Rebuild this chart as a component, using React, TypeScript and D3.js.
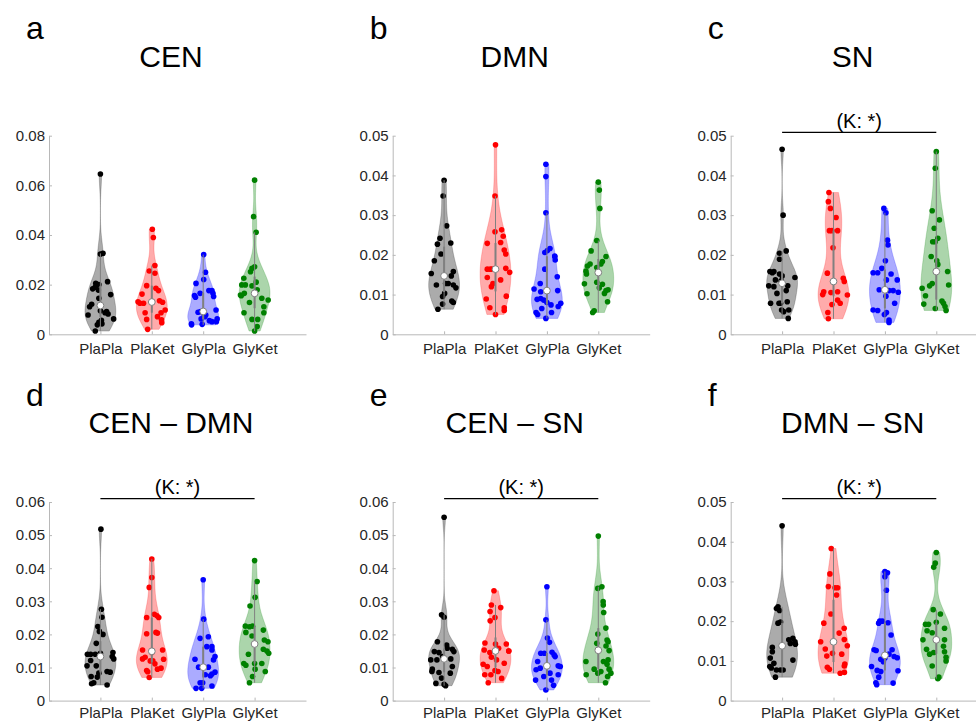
import React, { useRef, useEffect } from 'react';
import * as d3 from 'd3';

const categories = ['PlaPla', 'PlaKet', 'GlyPla', 'GlyKet'];
const groupColors = ['#000000', '#ff0000', '#0000ff', '#008000'];

const ticks08 = [0, 0.02, 0.04, 0.06, 0.08];
const ticks05 = [0, 0.01, 0.02, 0.03, 0.04, 0.05];
const ticks06 = [0, 0.01, 0.02, 0.03, 0.04, 0.05, 0.06];

// every point: [value, horizontal jitter in category units], one list per group
const cenData = [
  [[0.0646, 0], [0.0326, 0.07], [0.0323, 0], [0.0212, 0.14], [0.0205, -0.09], [0.02, -0.03], [0.019, -0.1], [0.0183, -0.15], [0.0178, -0.04], [0.016, 0.2], [0.0145, -0.03], [0.0121, -0.17], [0.0111, -0.21], [0.0095, 0], [0.0092, 0.12], [0.0087, 0.09], [0.0082, 0.15], [0.0078, -0.24], [0.0062, 0.3], [0.0056, 0.02], [0.0048, -0.03], [0.0042, 0.03], [0.0038, -0.06], [0.0013, -0.1]],
  [[0.0423, 0.01], [0.039, 0.03], [0.0277, 0.06], [0.0255, -0.05], [0.0246, 0.06], [0.0196, -0.1], [0.0185, 0.08], [0.0176, 0.13], [0.0162, -0.19], [0.0135, 0.15], [0.0131, -0.29], [0.0129, 0.21], [0.0125, -0.23], [0.0125, -0.16], [0.0098, 0.26], [0.0087, -0.13], [0.0087, 0.18], [0.0071, 0.11], [0.006, -0.1], [0.0058, 0.19], [0.0047, 0.21], [0.002, -0.08]],
  [[0.0321, 0.01], [0.025, 0.045], [0.0221, 0.01], [0.0205, -0.14], [0.0176, 0.11], [0.0176, 0.17], [0.0165, 0.19], [0.0165, -0.06], [0.0156, -0.17], [0.0152, 0.21], [0.0149, -0.15], [0.0098, 0.25], [0.0092, -0.05], [0.0089, -0.1], [0.0085, 0], [0.0078, 0.05], [0.0071, 0.03], [0.0062, -0.04], [0.0062, 0.28], [0.0055, 0.12], [0.0051, 0.17], [0.0051, 0.3], [0.0042, -0.23], [0.004, -0.02], [0.0038, -0.25]],
  [[0.0621, 0], [0.0474, -0.02], [0.0411, 0.03], [0.0272, 0], [0.0266, -0.05], [0.0252, -0.08], [0.0226, -0.21], [0.021, 0.03], [0.0199, -0.25], [0.0199, -0.18], [0.0195, -0.05], [0.0179, 0.05], [0.0165, -0.2], [0.0158, -0.31], [0.0155, -0.26], [0.0145, 0.14], [0.0138, 0.29], [0.0128, -0.1], [0.0111, 0.18], [0.0087, -0.21], [0.0087, 0.18], [0.006, -0.05], [0.006, 0.06], [0.0031, 0.05], [0.0013, 0]],
];

const dmnData = [
  [[0.0388, 0], [0.0348, -0.02], [0.0273, 0.05], [0.0242, -0.08], [0.0227, -0.13], [0.023, 0.13], [0.0202, -0.06], [0.0185, -0.19], [0.0158, 0.18], [0.0153, -0.25], [0.0148, 0.01], [0.0147, 0.14], [0.0128, 0.03], [0.0128, 0.08], [0.0124, -0.15], [0.0124, 0.18], [0.0117, 0.23], [0.0103, 0.01], [0.0095, -0.03], [0.0084, 0.15], [0.008, 0.18], [0.0076, -0.03], [0.0063, -0.12]],
  [[0.0477, 0], [0.0348, -0.01], [0.0263, 0.12], [0.0258, -0.01], [0.0247, 0.15], [0.0231, 0.1], [0.0229, -0.16], [0.0212, 0.17], [0.0202, 0.2], [0.0166, 0.2], [0.0164, -0.16], [0.0164, -0.1], [0.0164, -0.06], [0.0156, 0.3], [0.0143, -0.16], [0.0137, 0.1], [0.0128, -0.05], [0.012, -0.08], [0.0096, 0.21], [0.0089, -0.18], [0.0067, -0.11], [0.0067, 0.17], [0.006, 0.17], [0.005, 0]],
  [[0.0428, -0.02], [0.0397, -0.02], [0.0306, -0.02], [0.0216, 0.06], [0.0211, 0.01], [0.0206, -0.04], [0.0197, 0.16], [0.0195, 0.21], [0.0187, 0.18], [0.0164, -0.04], [0.0145, 0.22], [0.0128, -0.13], [0.0114, -0.25], [0.011, 0.21], [0.0107, -0.12], [0.009, -0.12], [0.0088, -0.19], [0.0086, -0.06], [0.008, 0], [0.0078, 0.27], [0.0074, 0.08], [0.007, 0.22], [0.0065, -0.1], [0.0055, 0.09], [0.0055, -0.21], [0.005, -0.18], [0.004, -0.02]],
  [[0.0383, 0], [0.0363, 0.02], [0.0317, 0.03], [0.0236, -0.03], [0.021, -0.14], [0.0196, 0.15], [0.0183, 0.08], [0.0177, 0.05], [0.0177, -0.16], [0.0172, -0.21], [0.0168, -0.03], [0.0159, -0.24], [0.0152, -0.23], [0.0131, -0.03], [0.0127, -0.27], [0.0126, 0.08], [0.0117, 0.02], [0.0112, 0.19], [0.011, 0.15], [0.0103, 0.12], [0.0102, -0.22], [0.0082, 0.18], [0.0059, -0.08], [0.0055, -0.11]],
];

const snData = [
  [[0.0466, 0], [0.03, 0.02], [0.021, 0.08], [0.0204, -0.05], [0.0189, -0.05], [0.0158, -0.24], [0.0158, -0.16], [0.0155, -0.19], [0.0152, -0.05], [0.0147, 0], [0.0143, 0.25], [0.0137, -0.13], [0.0135, -0.02], [0.0122, -0.26], [0.0122, 0.11], [0.012, -0.16], [0.011, 0.08], [0.0103, -0.1], [0.0082, 0.1], [0.0078, -0.24], [0.0078, -0.06], [0.0078, -0.03], [0.0061, -0.01], [0.0061, 0.13], [0.0057, 0.03], [0.004, 0.12]],
  [[0.0357, -0.1], [0.0334, -0.1], [0.0317, -0.06], [0.0294, 0.05], [0.0261, -0.08], [0.0261, -0.03], [0.0261, 0.08], [0.0218, -0.01], [0.0154, -0.12], [0.0141, 0.19], [0.0133, 0.21], [0.0107, -0.19], [0.0107, 0.08], [0.0105, -0.05], [0.01, -0.21], [0.0099, 0.27], [0.0086, 0.08], [0.0078, 0.13], [0.0075, -0.03], [0.0055, -0.11], [0.0039, -0.1]],
  [[0.0317, -0.02], [0.0306, 0.02], [0.0237, 0.05], [0.0225, 0.06], [0.0185, 0.01], [0.0166, -0.06], [0.0155, -0.23], [0.0155, -0.14], [0.0152, 0.12], [0.0137, 0.03], [0.0137, 0.24], [0.0112, -0.11], [0.011, 0.08], [0.011, 0.16], [0.0106, 0.26], [0.0096, 0.02], [0.0078, 0.19], [0.0061, -0.23], [0.006, -0.14], [0.0055, 0.03], [0.005, -0.01], [0.0036, 0.08], [0.003, 0.08]],
  [[0.046, 0], [0.0418, -0.02], [0.0311, -0.08], [0.0288, 0.06], [0.0267, -0.04], [0.0242, 0.03], [0.0233, -0.07], [0.0233, -0.02], [0.0196, -0.1], [0.0185, 0.01], [0.0176, 0.03], [0.0158, 0.22], [0.0128, -0.08], [0.0124, 0.24], [0.0122, -0.13], [0.0116, -0.28], [0.0097, -0.21], [0.0084, 0.11], [0.0078, 0.14], [0.0076, -0.25], [0.007, 0.17], [0.0065, -0.02], [0.006, 0.19]],
];

const cenDmnData = [
  [[0.0518, 0.01], [0.0276, 0.02], [0.0252, 0.03], [0.0224, -0.05], [0.0209, -0.02], [0.02, 0.05], [0.0173, -0.08], [0.0145, 0.26], [0.0143, 0], [0.014, -0.28], [0.014, -0.19], [0.014, -0.1], [0.0133, 0.23], [0.0126, 0.26], [0.0121, -0.19], [0.0105, -0.26], [0.0105, -0.08], [0.0088, 0.13], [0.0086, 0.19], [0.0083, -0.03], [0.0073, -0.18], [0.0071, -0.06], [0.0054, -0.13], [0.0051, -0.26], [0.0047, 0.13]],
  [[0.0428, 0], [0.0372, 0], [0.0342, -0.05], [0.0261, 0.05], [0.0256, 0.1], [0.0251, -0.1], [0.0251, 0.14], [0.0206, 0.08], [0.0204, 0.11], [0.0202, -0.1], [0.0153, -0.18], [0.0153, 0.21], [0.0145, 0], [0.0131, -0.13], [0.0126, -0.18], [0.0125, 0.23], [0.012, -0.03], [0.012, 0.02], [0.0111, 0.06], [0.0098, 0.18], [0.0095, 0.11], [0.0091, -0.1], [0.0087, -0.08], [0.007, -0.05]],
  [[0.0365, 0], [0.0246, 0.01], [0.0193, 0.1], [0.0188, -0.06], [0.0163, 0.07], [0.0163, 0.17], [0.0153, 0.17], [0.0133, 0.23], [0.0125, -0.16], [0.0123, 0.2], [0.0101, -0.09], [0.0101, 0.1], [0.0086, 0.23], [0.008, 0.17], [0.0078, 0.04], [0.0075, 0.14], [0.0054, -0.06], [0.0054, -0.01], [0.0044, 0.17], [0.0037, -0.14], [0.0037, -0.03]],
  [[0.0423, 0], [0.036, 0.06], [0.0312, 0.01], [0.0286, -0.1], [0.0225, -0.18], [0.0225, -0.04], [0.0223, -0.1], [0.0213, 0.17], [0.0206, -0.17], [0.0195, -0.05], [0.0183, 0.19], [0.0178, 0.26], [0.0171, 0], [0.0155, 0.17], [0.015, 0.24], [0.0143, 0.29], [0.014, -0.12], [0.0112, -0.21], [0.0112, 0], [0.0112, 0.14], [0.0107, -0.17], [0.0095, 0.01], [0.0088, 0.21], [0.0073, -0.04], [0.0054, -0.1]],
];

const cenSnData = [
  [[0.0554, 0], [0.0259, -0.06], [0.0252, 0], [0.0178, -0.13], [0.0168, 0.05], [0.0158, 0.06], [0.0155, 0.16], [0.0148, 0.19], [0.0148, -0.19], [0.0145, -0.1], [0.0133, -0.03], [0.0126, 0.13], [0.0123, -0.14], [0.0123, -0.26], [0.0103, 0.16], [0.0095, -0.23], [0.0088, -0.25], [0.0085, -0.1], [0.0083, 0.12], [0.0068, -0.05], [0.0052, -0.16], [0.0049, 0], [0.0045, 0.03]],
  [[0.0332, -0.03], [0.0289, -0.08], [0.0281, 0.12], [0.0269, -0.12], [0.0251, -0.01], [0.0241, -0.14], [0.0174, -0.21], [0.0171, 0], [0.0171, 0.21], [0.0158, 0.06], [0.0153, -0.22], [0.015, 0.26], [0.015, 0.28], [0.0145, -0.11], [0.0131, -0.08], [0.0123, 0.02], [0.0113, 0.17], [0.011, -0.24], [0.0103, -0.16], [0.0091, -0.01], [0.0088, 0.05], [0.0078, -0.21], [0.0078, -0.09], [0.0067, 0.12], [0.0054, -0.18]],
  [[0.0344, 0], [0.0244, -0.02], [0.0189, 0.01], [0.0176, 0.05], [0.0146, 0.1], [0.0143, -0.12], [0.0143, -0.05], [0.0138, 0.14], [0.0133, 0.16], [0.0118, -0.18], [0.0105, 0.22], [0.0103, 0.26], [0.0098, -0.13], [0.0093, -0.21], [0.0083, 0.06], [0.0078, 0.22], [0.0073, -0.06], [0.0062, -0.23], [0.0062, 0.09], [0.0046, 0.13], [0.0032, -0.02]],
  [[0.0497, 0], [0.0344, 0.08], [0.0339, -0.01], [0.0299, 0.1], [0.0289, 0.13], [0.0266, 0.12], [0.0219, 0.15], [0.0201, -0.01], [0.0183, 0.17], [0.0178, 0.19], [0.0173, -0.03], [0.0165, 0.15], [0.0153, 0], [0.0151, 0.21], [0.0123, 0.19], [0.0118, -0.24], [0.0118, 0.1], [0.011, 0.17], [0.0095, -0.08], [0.0095, 0.21], [0.0088, 0.05], [0.0083, -0.01], [0.0083, 0.25], [0.0078, -0.24], [0.0073, 0.18], [0.0054, 0.14]],
];

const dmnSnData = [
  [[0.044, 0], [0.0236, -0.08], [0.0232, -0.11], [0.0227, -0.05], [0.0198, -0.03], [0.0195, -0.08], [0.0157, 0.21], [0.0153, 0.13], [0.0148, 0.26], [0.0144, 0.16], [0.0142, 0.28], [0.0134, -0.19], [0.0123, -0.19], [0.0107, -0.23], [0.0102, 0.21], [0.0094, -0.16], [0.0086, -0.24], [0.0082, -0.21], [0.0077, 0.02], [0.0077, -0.03], [0.0077, -0.11], [0.0059, -0.13]],
  [[0.0383, -0.05], [0.0319, -0.07], [0.0287, -0.1], [0.0284, 0.03], [0.0284, 0.08], [0.0266, 0.06], [0.0218, -0.05], [0.0195, -0.21], [0.0182, 0.22], [0.017, 0.11], [0.0154, 0.21], [0.0148, -0.25], [0.0138, 0.27], [0.013, -0.16], [0.0119, -0.02], [0.0117, 0.16], [0.0112, -0.13], [0.0092, 0.22], [0.0087, 0.21], [0.0084, -0.12], [0.0079, -0.08], [0.0071, 0.22], [0.0069, 0.13]],
  [[0.0325, 0], [0.0322, 0.05], [0.0312, 0], [0.0278, 0.03], [0.02, -0.1], [0.02, -0.05], [0.0196, 0.06], [0.0195, -0.15], [0.0165, 0.12], [0.0128, -0.21], [0.0128, 0.14], [0.0126, -0.17], [0.0117, 0.08], [0.0111, 0.18], [0.0108, 0.24], [0.0107, 0], [0.0104, -0.08], [0.0098, -0.03], [0.0086, -0.26], [0.0076, -0.15], [0.0075, 0.26], [0.0073, -0.08], [0.0059, -0.12], [0.0045, -0.2], [0.0044, 0.16], [0.004, -0.16]],
  [[0.0373, 0], [0.0346, -0.02], [0.0336, -0.05], [0.0229, -0.06], [0.0218, 0.08], [0.0197, 0], [0.0192, -0.21], [0.0192, -0.15], [0.0182, 0.16], [0.0176, -0.18], [0.0171, -0.08], [0.0153, -0.26], [0.0153, 0.16], [0.0137, 0.14], [0.0129, -0.19], [0.0123, 0.16], [0.0121, -0.05], [0.0117, -0.13], [0.0109, 0.19], [0.01, 0.19], [0.0087, -0.08], [0.0059, 0.05], [0.0055, 0.03]],
];

const panels = [
  { letter: 'a', title: 'CEN', yMax: 0.08, ticks: ticks08, sig: false, data: cenData, col: 0, row: 0 },
  { letter: 'b', title: 'DMN', yMax: 0.05, ticks: ticks05, sig: false, data: dmnData, col: 1, row: 0 },
  { letter: 'c', title: 'SN', yMax: 0.05, ticks: ticks05, sig: true, data: snData, col: 2, row: 0 },
  { letter: 'd', title: 'CEN – DMN', yMax: 0.06, ticks: ticks06, sig: true, data: cenDmnData, col: 0, row: 1 },
  { letter: 'e', title: 'CEN – SN', yMax: 0.06, ticks: ticks06, sig: true, data: cenSnData, col: 1, row: 1 },
  { letter: 'f', title: 'DMN – SN', yMax: 0.05, ticks: ticks05, sig: true, data: dmnSnData, col: 2, row: 1 },
];

// MATLAB-style quantile (position n*p + 0.5)
const quantileM = (sorted: number[], p: number) => {
  const n = sorted.length;
  const pos = n * p + 0.5;
  if (pos <= 1) return sorted[0];
  if (pos >= n) return sorted[n - 1];
  const lo = Math.floor(pos);
  return sorted[lo - 1] + (pos - lo) * (sorted[lo] - sorted[lo - 1]);
};

const FONT = "'Liberation Sans', Arial, Helvetica, sans-serif";

const App = () => {
  const svgRef = useRef<SVGSVGElement | null>(null);

  useEffect(() => {
    const svg = d3.select(svgRef.current);
    svg.selectAll('*').remove();

    const colX = [49, 392.7, 730.7];
    const rowTop = [135.7, 502];
    const labelPad = [9.5, 6.5]; // bottom row labels pulled up so they stay inside the page
    const plotW = 257;
    const plotH = 198.6;
    const halfWidth = 0.3;

    panels.forEach(p => {
      const left = colX[p.col];
      const top = rowTop[p.row];
      const x = d3.scaleLinear().domain([0, 5]).range([left, left + plotW]);
      const y = d3.scaleLinear().domain([0, p.yMax]).range([top + plotH, top]);
      const g = svg.append('g');

      // axes
      const yAxis = g
        .append('g')
        .attr('transform', `translate(${left},0)`)
        .call(
          d3
            .axisLeft(y)
            .tickValues(p.ticks)
            .tickSizeInner(-3)
            .tickSizeOuter(0)
            .tickPadding(4)
            .tickFormat(d => (+d === 0 ? '0' : d3.format('.2f')(+d)))
        );
      const xAxis = g
        .append('g')
        .attr('transform', `translate(0,${top + plotH})`)
        .call(
          d3
            .axisBottom(x)
            .tickValues([1, 2, 3, 4])
            .tickSizeInner(-3)
            .tickSizeOuter(0)
            .tickPadding(labelPad[p.row])
            .tickFormat(d => categories[+d - 1])
        );
      [yAxis, xAxis].forEach(ax => {
        ax.attr('font-family', FONT).attr('font-size', 15);
        ax.selectAll('path, line').attr('stroke', '#b8b8b8');
        ax.selectAll('text').attr('fill', '#262626');
      });

      // labels
      g.append('text')
        .attr('x', left - 23)
        .attr('y', top - 96.4)
        .attr('font-family', FONT)
        .attr('font-size', 32)
        .attr('fill', '#000')
        .text(p.letter);
      g.append('text')
        .attr('x', left + 122)
        .attr('y', top - 69)
        .attr('text-anchor', 'middle')
        .attr('font-family', FONT)
        .attr('font-size', 30)
        .attr('fill', '#000')
        .text(p.title);

      if (p.sig) {
        const ly = top - 3.3;
        g.append('line')
          .attr('x1', x(1))
          .attr('x2', x(4))
          .attr('y1', ly)
          .attr('y2', ly)
          .attr('stroke', '#000')
          .attr('stroke-width', 1.2);
        g.append('text')
          .attr('x', (x(1) + x(4)) / 2)
          .attr('y', ly - 4.5)
          .attr('text-anchor', 'middle')
          .attr('font-family', FONT)
          .attr('font-size', 20)
          .attr('fill', '#000')
          .text('(K: *)');
      }

      p.data.forEach((pts, i) => {
        const pos = i + 1;
        const color = groupColors[i];
        const vals = pts.map(d => d[0]).sort((a, b) => a - b);
        const n = vals.length;
        const med = quantileM(vals, 0.5);
        const mad = d3.median(vals.map(v => Math.abs(v - med))) as number;
        const bw = (mad / 0.6745) * Math.pow(4 / (3 * n), 0.2);
        const lo = vals[0];
        const hi = vals[n - 1];
        const dens = (v: number) =>
          d3.sum(vals, xi => Math.exp(-0.5 * ((v - xi) / bw) ** 2));
        const grid = d3.range(100).map(k => lo + ((hi - lo) * k) / 99);
        const dv = grid.map(dens);
        const dmax = d3.max(dv) as number;
        const widthAt = (v: number) => (halfWidth * dens(v)) / dmax;

        const outline: [number, number][] = [];
        grid.forEach((v, k) => outline.push([x(pos + (halfWidth * dv[k]) / dmax), y(v)]));
        for (let k = grid.length - 1; k >= 0; k--) {
          outline.push([x(pos - (halfWidth * dv[k]) / dmax), y(grid[k])]);
        }
        g.append('path')
          .attr('d', (d3.line()(outline) as string) + 'Z')
          .attr('fill', color)
          .attr('fill-opacity', 0.33)
          .attr('stroke', color)
          .attr('stroke-opacity', 0.25)
          .attr('stroke-width', 0.8);

        g.append('g')
          .selectAll('circle')
          .data(pts)
          .join('circle')
          .attr('cx', d => {
            const w = widthAt(d[0]) * 0.92;
            const off = Math.max(-w, Math.min(w, d[1]));
            return x(pos + off);
          })
          .attr('cy', d => y(d[0]))
          .attr('r', 2.8)
          .attr('fill', color);

        const q1 = quantileM(vals, 0.25);
        const q3 = quantileM(vals, 0.75);
        const iqr = q3 - q1;
        const wLo = d3.min(vals.filter(v => v >= q1 - 1.5 * iqr)) as number;
        const wHi = d3.max(vals.filter(v => v <= q3 + 1.5 * iqr)) as number;
        g.append('line')
          .attr('x1', x(pos))
          .attr('x2', x(pos))
          .attr('y1', y(wLo))
          .attr('y2', y(wHi))
          .attr('stroke', '#808080')
          .attr('stroke-width', 1);
        g.append('rect')
          .attr('x', x(pos) - 1)
          .attr('width', 2)
          .attr('y', y(q3))
          .attr('height', y(q1) - y(q3))
          .attr('fill', '#808080');
        g.append('circle')
          .attr('cx', x(pos))
          .attr('cy', y(med))
          .attr('r', 3.4)
          .attr('fill', '#fff')
          .attr('stroke', '#808080')
          .attr('stroke-width', 1);
      });
    });
  }, []);

  return (
    <div style={{ position: 'absolute', left: 0, top: 0, width: 976, height: 722, background: '#fff' }}>
      <svg ref={svgRef} width={976} height={722}></svg>
    </div>
  );
};

export default App;
